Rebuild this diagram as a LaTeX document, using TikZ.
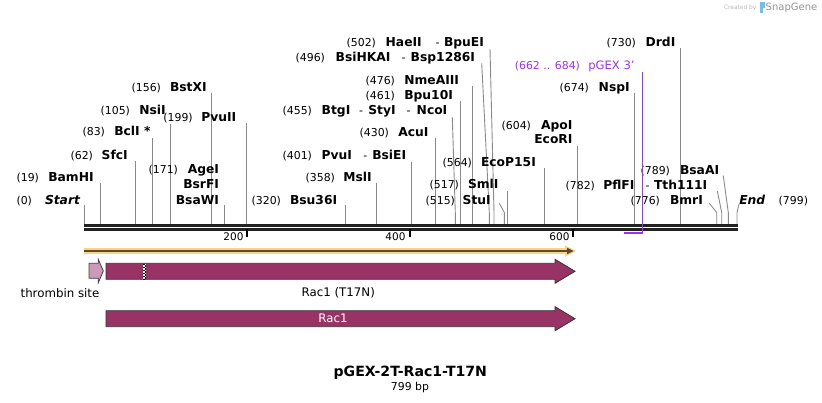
\documentclass[tikz,border=0pt]{standalone}
\usepackage{fontspec}
\setmainfont{DejaVu Sans}
\definecolor{feat}{HTML}{993366}
\definecolor{thromb}{HTML}{CC99BB}
\definecolor{halo}{HTML}{FFD27F}
\definecolor{primer}{HTML}{5A4A35}
\definecolor{pgex}{HTML}{9B30FF}
\definecolor{leadc}{HTML}{8A8A8A}
\definecolor{bbc}{HTML}{222222}
\definecolor{wmark}{HTML}{B8B8B8}
\definecolor{wlogo}{HTML}{6EC0F0}
\newcommand\leadv[3]{\coordinate (#1t) at (#2,#3); \coordinate (#1b) at (#2,224); \draw[leader] (#1t) -- (#1b);}
\newcommand\leads[4]{\coordinate (#1t) at (#2,#3); \coordinate (#1k) at (#4,212.5); \coordinate (#1b) at (#4,224); \draw[leader] (#1t) -- (#1k) -- (#1b);}
\newcommand\sitelbl[6]{\node[num, anchor=base east] (#1n) at (#2,#4+4.4) {#5}; \node[nm, anchor=base west] (#1l) at (#3,#4+4.4) {#6};}
\newcommand\sitedash[3]{\node[num, anchor=base west] (#1) at (#2,#3+4.4) {-};}
\newcommand\sitename[4]{\node[nm, anchor=base west] (#1) at (#2,#3+4.4) {#4};}
\begin{document}
\begin{tikzpicture}[x=1pt,y=-1pt,
  every node/.style={inner sep=0pt, outer sep=0pt},
  num/.style={font=\fontsize{10.9}{12}\selectfont},
  nm/.style={font=\fontsize{12.3}{14}\selectfont\bfseries},
  leader/.style={draw=leadc, line width=0.9pt},
  featbox/.style={fill=feat, draw=black!80, line width=0.8pt, line join=miter},
  ticklbl/.style={font=\fontsize{10.5}{12}\selectfont, anchor=base east}]
\useasboundingbox (0,0) rectangle (822,403);

% watermark
\node[font=\fontsize{5.9}{7}\selectfont, text=wmark, anchor=west] (wm1) at (724,7.5) {Created by};
\fill[wlogo] (760,2.5) rectangle (764.5,8.5);
\fill[wlogo] (760,8.5) rectangle (762.5,13);
\node[font=\fontsize{10}{12}\selectfont, text=wmark!80!black, anchor=west] (wm2) at (765.7,7.5) {SnapGene};

% leader lines
\leadv{Ls}{84.3}{205}
\leadv{Lbam}{100.3}{183.3}
\leadv{Lsfc}{135.3}{161}
\leadv{Lbcl}{152.3}{137.7}
\leadv{Lnsi}{170.7}{124.3}
\leadv{Lbstx}{211.3}{92.7}
\leadv{Lage}{224.3}{205}
\leadv{Lpvu2}{246.3}{123.3}
\leadv{Lbsu}{345.7}{205}
\leadv{Lmsl}{376.3}{182.7}
\leadv{Lpvu1}{411.7}{161.7}
\leadv{Lacu}{435.3}{137.7}
\leads{Lbtg}{452.3}{117.3}{455.3}
\leadv{Lbpu}{460.3}{101}
\leadv{Lnme}{472.3}{86}
\leads{Lbsi}{481.7}{63.3}{489.3}
\leads{Lhae}{490}{49}{494}
\leads{Lstu}{499.3}{203.3}{504.3}
\leadv{Lsml}{507}{191}
\leadv{Leco15}{544.3}{168.3}
\leadv{Lapo}{577.7}{146}
\leadv{Lnsp}{634.3}{93.3}
\leadv{Ldrd}{680.3}{48}
\leads{Lbmr}{709.3}{203.3}{716.7}
\leads{Lpfl}{717.3}{191}{721.7}
\leads{Lbsaa}{723.3}{175.7}{728.3}
\leads{Lend}{739}{204}{737}

% site labels
\node[num, anchor=base east] (Sn) at (32,204.4) {(0)};
\node[nm, anchor=base west, font=\fontsize{12.3}{14}\selectfont\bfseries\itshape] (Sl) at (45,204.4) {Start};
\sitelbl{bam}{39}{48.3}{177}{(19)}{BamHI}
\sitelbl{sfc}{93}{101.7}{155}{(62)}{SfcI}
\sitelbl{bcl}{105}{114.3}{131}{(83)}{BclI *}
\sitelbl{nsi}{130}{139.3}{110}{(105)}{NsiI}
\sitelbl{bstx}{161}{170}{87}{(156)}{BstXI}
\sitelbl{pvu2}{192.7}{201.3}{117.3}{(199)}{PvuII}
\node[num, anchor=base east] (agen) at (178,173.7) {(171)};
\node[nm, anchor=base east] (agel) at (219,173.7) {AgeI};
\node[nm, anchor=base east] (bsrl) at (219,188.7) {BsrFI};
\node[nm, anchor=base east] (bsawl) at (219,204.4) {BsaWI};
\sitelbl{bsu}{281}{290}{200}{(320)}{Bsu36I}
\sitelbl{msl}{335}{343.3}{176.7}{(358)}{MslI}
\sitelbl{pvu1}{312}{321.7}{155}{(401)}{PvuI}
\sitedash{pvu1d}{363.3}{155}
\sitename{bsie}{372.3}{155}{BsiEI}
\sitelbl{acu}{389}{398.3}{131.7}{(430)}{AcuI}
\sitelbl{btg}{312}{321.7}{110}{(455)}{BtgI}
\sitedash{btgd}{359}{110}
\sitename{sty}{368.3}{110}{StyI}
\sitedash{styd}{406.7}{110}
\sitename{nco}{416.7}{110}{NcoI}
\sitelbl{bpu}{395}{404.3}{95}{(461)}{Bpu10I}
\sitelbl{nme}{395}{404.3}{80}{(476)}{NmeAIII}
\sitelbl{bsi}{325}{335.7}{56.7}{(496)}{BsiHKAI}
\sitedash{bsid}{401.7}{56.7}
\sitename{bsp}{410.7}{56.7}{Bsp1286I}
\sitelbl{hae}{376}{385.7}{42.3}{(502)}{HaeII}
\sitedash{haed}{435.7}{42.3}
\sitename{bpue}{444}{42.3}{BpuEI}
\sitelbl{ecop}{472}{481}{161.7}{(564)}{EcoP15I}
\sitelbl{sml}{459}{468}{184.3}{(517)}{SmlI}
\sitelbl{stu}{455}{462.7}{200}{(515)}{StuI}
\node[num, anchor=base east] (apon) at (531,129.4) {(604)};
\node[nm, anchor=base east] (apol) at (572.5,129.4) {ApoI};
\node[nm, anchor=base east] (ecorl) at (572.5,143.7) {EcoRI};
\sitelbl{nsp}{589}{598.7}{87.3}{(674)}{NspI}
\node[num, anchor=base east, text=pgex] (pgn) at (580,69.4) {(662 .. 684)};
\node[num, anchor=base west, text=pgex, font=\fontsize{11.6}{13}\selectfont] (pgl) at (588.3,69.4) {pGEX 3'};
\sitelbl{drd}{636}{645.7}{42.3}{(730)}{DrdI}
\sitelbl{bsaa}{670}{680}{170}{(789)}{BsaAI}
\sitelbl{pfl}{595}{603.3}{185}{(782)}{PflFI}
\sitedash{pfld}{645.7}{185}
\sitename{tth}{654}{185}{Tth111I}
\sitelbl{bmr}{660}{670}{200}{(776)}{BmrI}
\node[nm, anchor=base west, font=\fontsize{12.3}{14}\selectfont\bfseries\itshape] (El) at (739.3,204.4) {End};
\node[num, anchor=base west] (En) at (778.7,204.4) {(799)};

% backbone
\coordinate (bbL1) at (84,225.3); \coordinate (bbR1) at (737.7,225.3);
\coordinate (bbL2) at (84,229.7); \coordinate (bbR2) at (737.7,229.7);
\draw[bbc, line width=2.7pt] (bbL1) -- (bbR1);
\draw[bbc, line width=2.7pt] (bbL2) -- (bbR2);

% ticks
\coordinate (t2a) at (246.9,229); \coordinate (t2b) at (246.9,237.5);
\coordinate (t4a) at (409.6,229); \coordinate (t4b) at (409.6,237.5);
\coordinate (t6a) at (572.7,229); \coordinate (t6b) at (572.7,237.5);
\draw[black, line width=2pt] (t2a) -- (t2b);
\draw[black, line width=2pt] (t4a) -- (t4b);
\draw[black, line width=2pt] (t6a) -- (t6b);
\node[ticklbl] (t2l) at (243.5,240.5) {200};
\node[ticklbl] (t4l) at (405.5,240.5) {400};
\node[ticklbl] (t6l) at (569.5,240.5) {600};

% pGEX 3' bracket
\coordinate (pg1) at (642.5,71.7); \coordinate (pg2) at (642.5,233.3); \coordinate (pg3) at (624,233.3);
\draw[pgex, line width=1.8pt] (pg1) -- (pg2) -- (pg3);

% orange primer arrow
\coordinate (prL) at (84,251); \coordinate (prR) at (569,251);
\draw[halo, line width=6pt] (prL) -- (prR);
\fill[halo] (565,245.5) -- (576,251) -- (565,256.5) -- cycle;
\draw[primer, line width=2pt] (prL) -- (568,251);
\fill[primer] (567,247.7) -- (573.5,251) -- (567,254.3) -- cycle;

% thrombin site
\draw[fill=thromb, draw=black!75, line width=0.8pt, line join=miter] (89,263.3) -- (98.3,263.3) -- (98.3,259.3) -- (103.3,271) -- (98.3,282.7) -- (98.3,278.3) -- (89,278.3) -- cycle;
\node[font=\fontsize{11.8}{13}\selectfont] (thl) at (60,293.3) {thrombin site};

% Rac1 (T17N)
\draw[featbox] (106,263.3) -- (555,263.3) -- (555,259.3) -- (575,271.3) -- (555,283.3) -- (555,279.3) -- (106,279.3) -- cycle;
\fill[white] (143.3,263.7) rectangle (146.3,278.9);
\draw[black, line width=1.5pt, dash pattern=on 1.5pt off 1.5pt] (144.05,263.7) -- (144.05,278.9);
\draw[black, line width=1.5pt, dash pattern=on 1.5pt off 1.5pt, dash phase=1.5pt] (145.55,263.7) -- (145.55,278.9);
\node[font=\fontsize{11.8}{13}\selectfont] (r17l) at (338.3,293.3) {Rac1 (T17N)};

% Rac1
\draw[featbox] (106,310.7) -- (555,310.7) -- (555,306.7) -- (575,318.7) -- (555,330.7) -- (555,326.7) -- (106,326.7) -- cycle;
\node[font=\fontsize{11.8}{13}\selectfont, text=white] (racl) at (333,318.7) {Rac1};

% title
\node[font=\fontsize{14.1}{16}\selectfont\bfseries] (title) at (410.3,372.3) {pGEX-2T-Rac1-T17N};
\node[font=\fontsize{10.9}{12}\selectfont] (bp) at (410,387.7) {799 bp};
\end{tikzpicture}
\end{document}
